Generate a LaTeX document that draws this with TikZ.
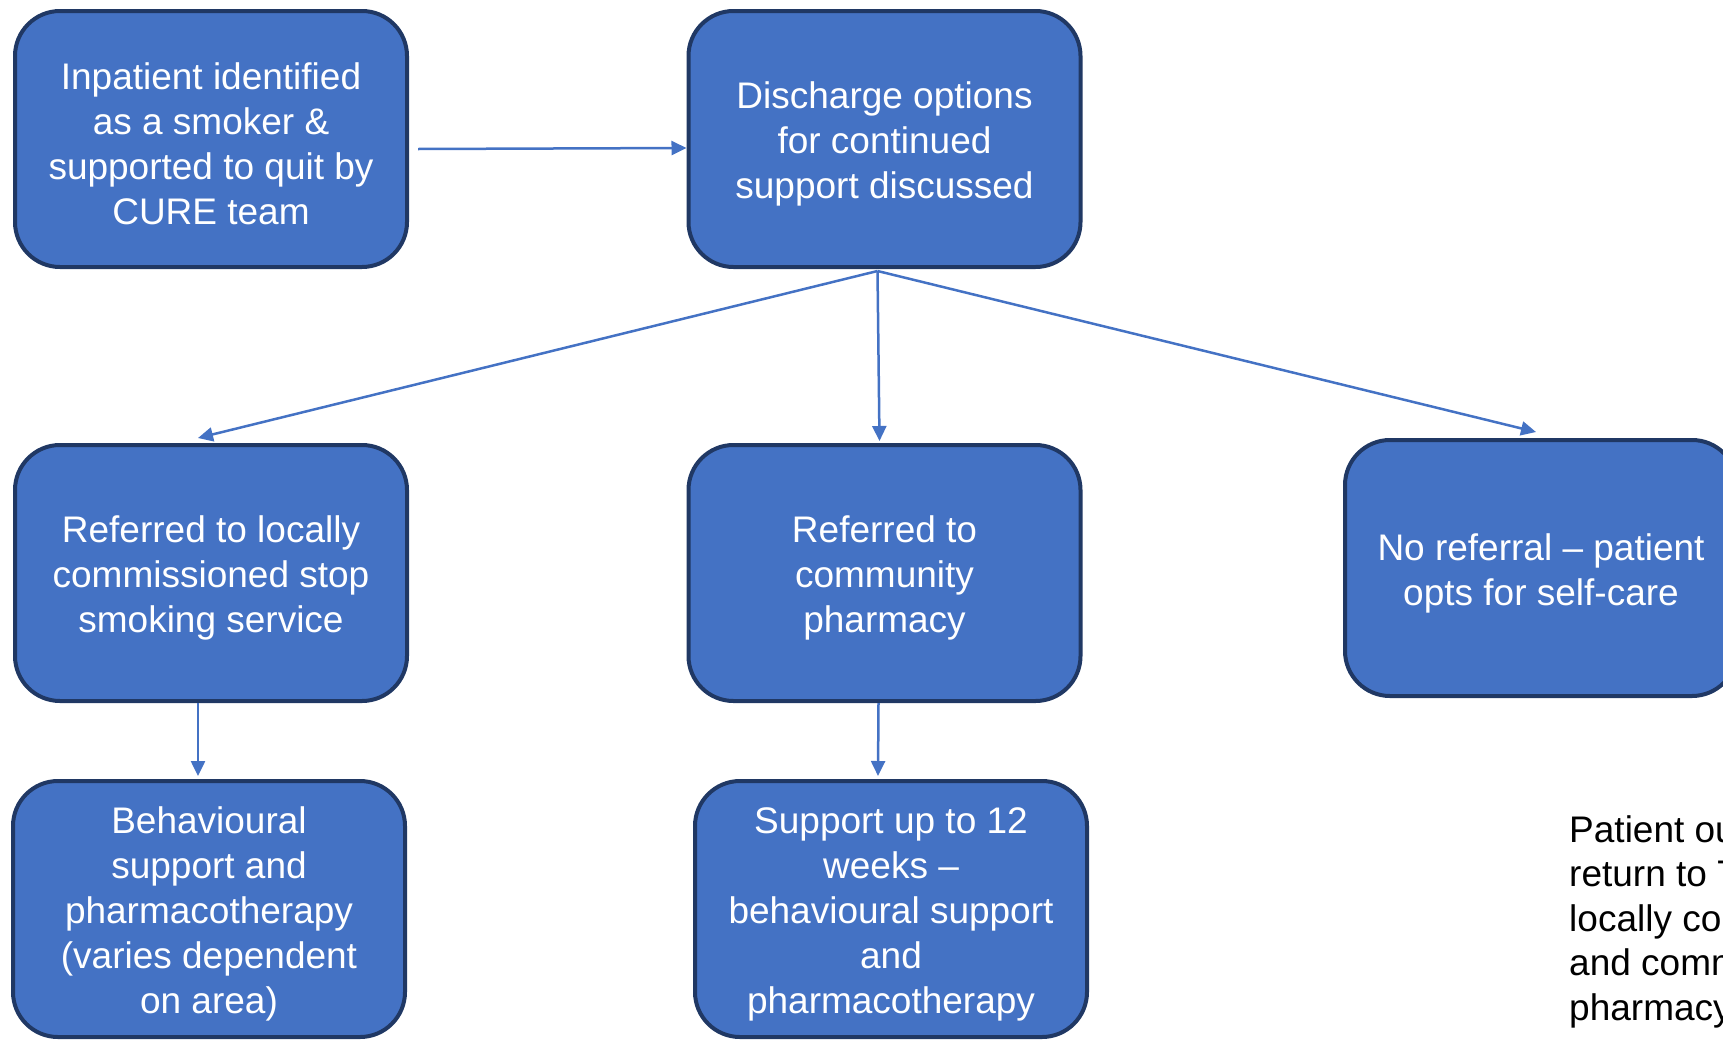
\documentclass[tikz,border=0pt]{standalone}
\usepackage{fontspec}
\setmainfont{Liberation Sans}
\usetikzlibrary{arrows.meta}
\definecolor{boxfill}{RGB}{68,114,196}
\definecolor{boxline}{RGB}{32,56,100}
\newcommand{\topgap}{\rule{0pt}{37pt}}

\begin{document}
\begin{tikzpicture}[x=1pt,y=-1pt,
  box/.style={draw=boxline,line width=4pt,fill=boxfill,rounded corners=45pt,
    minimum width=392pt,minimum height=256pt,inner sep=0pt,align=center,
    text=white,font=\fontsize{37}{45}\selectfont},
  link/.style={draw=boxfill,line width=2.5pt,-{Triangle[length=15pt,width=14pt]}}]
\clip (0,0) rectangle (1723,1039);

% Top row
\node[box] (inpatient) at (211,139) {\topgap Inpatient identified\\as a smoker \&\\supported to quit by\\CURE team};
\node[box] (discharge) at (884.5,139) {\topgap Discharge options\\for continued\\support discussed};

% Referral options
\node[box] (stopservice) at (211,573) {\topgap Referred to locally\\commissioned stop\\smoking service};
\node[box] (pharmacy) at (884.5,573) {\topgap Referred to\\community\\pharmacy};
\node[box] (selfcare) at (1541,568) {\topgap No referral -- patient\\opts for self-care};

% Support
\node[box] (behaviour) at (209,909) {\topgap Behavioural\\support and\\pharmacotherapy\\(varies dependent\\on area)};
\node[box] (twelveweeks) at (891,909) {\topgap Support up to 12\\weeks --\\behavioural support\\and\\pharmacotherapy};

% Note
\node[anchor=north west,align=left,inner sep=0pt,font=\fontsize{37}{44.5}\selectfont] (outcome) at (1569,815)
  {Patient outcomes\\return to Trust\\locally commissioned\\and community\\pharmacy};

% Arrows
\coordinate (fork) at ([xshift=-7pt,yshift=-2pt]discharge.south);
\draw[link] ([shift={(9,10)}]inpatient.east) -- ([yshift=-9pt]discharge.west);
\draw[link] (fork) -- ([xshift=-13pt,yshift=5pt]stopservice.north);
\draw[link] (fork) -- ([xshift=-5pt,yshift=2pt]pharmacy.north);
\draw[link] (fork) -- ([xshift=-5pt,yshift=6pt]selfcare.north);
\draw[link] ([xshift=-13pt]stopservice.south) -- ([xshift=-11pt,yshift=3pt]behaviour.north);
\draw[link] ([xshift=-6pt]pharmacy.south) -- ([xshift=-13pt,yshift=3pt]twelveweeks.north);
\end{tikzpicture}
\end{document}
